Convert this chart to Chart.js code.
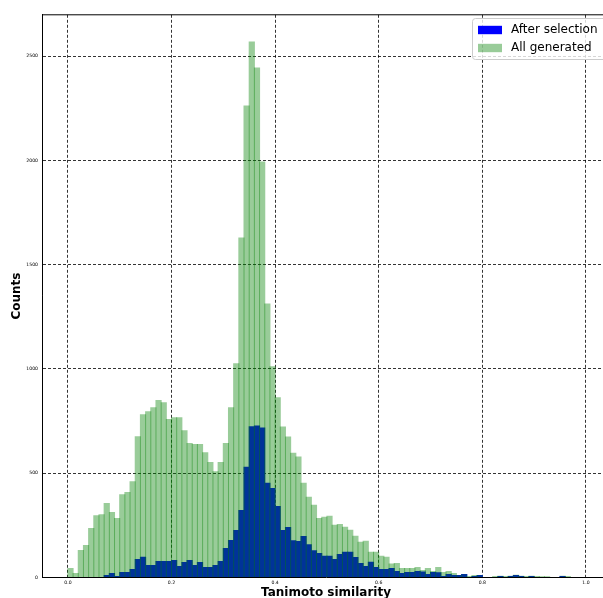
<!DOCTYPE html>
<html>
<head>
<meta charset="utf-8">
<title>Tanimoto similarity histogram</title>
<script src="https://cdn.jsdelivr.net/npm/chart.js@4.4.1/dist/chart.umd.min.js"></script>
<style>
  html, body { margin: 0; padding: 0; background: #fff; overflow: hidden; }
  #wrap { width: 603px; height: 598px; overflow: hidden; position: relative; }
  #hist { position: absolute; left: 0; top: 0; }
</style>
</head>
<body>
<div id="wrap"><canvas id="hist" width="610" height="598"></canvas></div>
<script>
// 100 histogram bins of width 0.01 over [0, 1]
const BIN_WIDTH = 0.01;

// counts per bin
const allGenerated = [
  45, 21, 131, 155, 236, 298, 303, 356, 313, 284,
  399, 409, 461, 677, 782, 797, 816, 850, 840, 759,
  768, 768, 706, 644, 639, 639, 600, 553, 509, 553,
  644, 816, 1027, 1630, 2263, 2570, 2446, 1995, 1314, 1013,
  864, 724, 676, 598, 579, 454, 386, 348, 285, 290,
  295, 252, 256, 242, 228, 199, 170, 175, 122, 122,
  103, 98, 66, 69, 45, 45, 45, 50, 35, 45,
  30, 50, 26, 30, 21, 11, 16, 6, 11, 11,
  2, 2, 6, 8, 6, 8, 12, 8, 6, 8,
  6, 5, 5, 2, 2, 8, 6, 2, 1, 0
];

const afterSelection = [
  0, 0, 0, 0, 0, 0, 0, 11, 21, 6,
  26, 26, 40, 88, 98, 59, 59, 78, 78, 78,
  83, 54, 73, 83, 59, 73, 50, 50, 59, 78,
  141, 179, 227, 323, 530, 725, 728, 719, 453, 429,
  342, 227, 241, 178, 174, 198, 159, 130, 117, 103,
  103, 88, 112, 122, 122, 97, 69, 54, 74, 50,
  40, 40, 45, 30, 21, 26, 26, 30, 28, 16,
  26, 24, 6, 16, 11, 11, 16, 2, 6, 11,
  0, 0, 2, 6, 2, 6, 11, 6, 2, 6,
  2, 0, 2, 0, 0, 6, 0, 0, 0, 0
];

const xTicks = [0, 0.2, 0.4, 0.6, 0.8, 1.0];
const yTicks = [0, 500, 1000, 1500, 2000, 2500];

const FONT = 'DejaVu Sans';

const binCenters = allGenerated.map((_, i) => (i + 0.5) * BIN_WIDTH);

// top/right spines (chart.js only draws the axis borders)
const frameLines = {
  id: 'frameLines',
  afterDraw(chart) {
    const { ctx, chartArea } = chart;
    ctx.save();
    ctx.strokeStyle = '#000';
    ctx.lineWidth = 1;
    ctx.beginPath();
    ctx.moveTo(chartArea.left, chartArea.top);
    ctx.lineTo(chartArea.right, chartArea.top);
    ctx.lineTo(chartArea.right, chartArea.bottom);
    ctx.stroke();
    ctx.restore();
  }
};

// matplotlib style legend in the upper right corner
const cornerLegend = {
  id: 'cornerLegend',
  afterDraw(chart) {
    const ctx = chart.ctx;
    const x0 = 472.5, y0 = 18.5, w = 136, h = 41, r = 3;
    ctx.save();
    ctx.beginPath();
    ctx.moveTo(x0 + r, y0);
    ctx.arcTo(x0 + w, y0, x0 + w, y0 + h, r);
    ctx.arcTo(x0 + w, y0 + h, x0, y0 + h, r);
    ctx.arcTo(x0, y0 + h, x0, y0, r);
    ctx.arcTo(x0, y0, x0 + w, y0, r);
    ctx.closePath();
    ctx.fillStyle = 'rgba(255,255,255,0.8)';
    ctx.fill();
    ctx.strokeStyle = '#cccccc';
    ctx.lineWidth = 1;
    ctx.stroke();

    ctx.font = '12px "' + FONT + '"';
    ctx.textBaseline = 'middle';
    ctx.textAlign = 'left';
    chart.data.datasets.forEach((ds, i) => {
      const cy = 30 + i * 18;
      ctx.fillStyle = ds.backgroundColor;
      ctx.fillRect(478, cy - 4.2, 24, 8.4);
      ctx.fillStyle = '#000';
      ctx.fillText(ds.label, 511, cy);
    });
    ctx.restore();
  }
};

const borderOpts = { display: true, color: '#000', width: 1, dash: [3, 2] };
const tickFont = { family: FONT, size: 4.6 };
const titleFont = { family: FONT, size: 12, weight: 'bold' };

new Chart(document.getElementById('hist'), {
  type: 'bar',
  data: {
    datasets: [
      {
        label: 'After selection',
        data: afterSelection.map((v, i) => ({ x: binCenters[i], y: v })),
        backgroundColor: 'rgb(0,0,255)',
        order: 1
      },
      {
        label: 'All generated',
        data: allGenerated.map((v, i) => ({ x: binCenters[i], y: v })),
        backgroundColor: 'rgba(0,128,0,0.4)',
        order: 0
      }
    ]
  },
  options: {
    responsive: false,
    animation: false,
    devicePixelRatio: 1,
    layout: { padding: { top: 14.8, left: 0, right: 0, bottom: 0 } },
    datasets: {
      bar: {
        grouped: false,
        // a hair wider than the bin so neighbours overlap by ~1px, like matplotlib
        barPercentage: 1.2,
        categoryPercentage: 1,
        borderWidth: 0
      }
    },
    plugins: {
      legend: { display: false },
      tooltip: { enabled: false }
    },
    scales: {
      x: {
        type: 'linear',
        min: -0.05,
        max: 1.0465,
        offset: false,
        z: 1,
        afterFit: (s) => { s.height = 20.7; },
        afterBuildTicks: (s) => { s.ticks = xTicks.map(v => ({ value: v })); },
        grid: { color: '#000', lineWidth: 0.8, drawTicks: false, offset: false },
        border: borderOpts,
        ticks: {
          font: tickFont,
          color: '#000',
          padding: 3,
          maxRotation: 0,
          autoSkip: false,
          callback: (v) => Number(v).toFixed(1)
        },
        title: {
          display: true,
          text: 'Tanimoto similarity',
          font: titleFont,
          color: '#000',
          padding: { top: 0, bottom: -2 }
        }
      },
      y: {
        min: 0,
        max: 2698.5,
        z: 1,
        afterFit: (s) => { s.width = 42; },
        afterBuildTicks: (s) => { s.ticks = yTicks.map(v => ({ value: v })); },
        grid: { color: '#000', lineWidth: 0.8, drawTicks: false },
        border: borderOpts,
        ticks: {
          font: tickFont,
          color: '#000',
          padding: 4,
          autoSkip: false,
          callback: (v) => String(v)
        },
        title: {
          display: true,
          text: 'Counts',
          font: titleFont,
          color: '#000',
          padding: { top: 9.5, bottom: 0 }
        }
      }
    }
  },
  plugins: [frameLines, cornerLegend]
});
</script>
</body>
</html>
